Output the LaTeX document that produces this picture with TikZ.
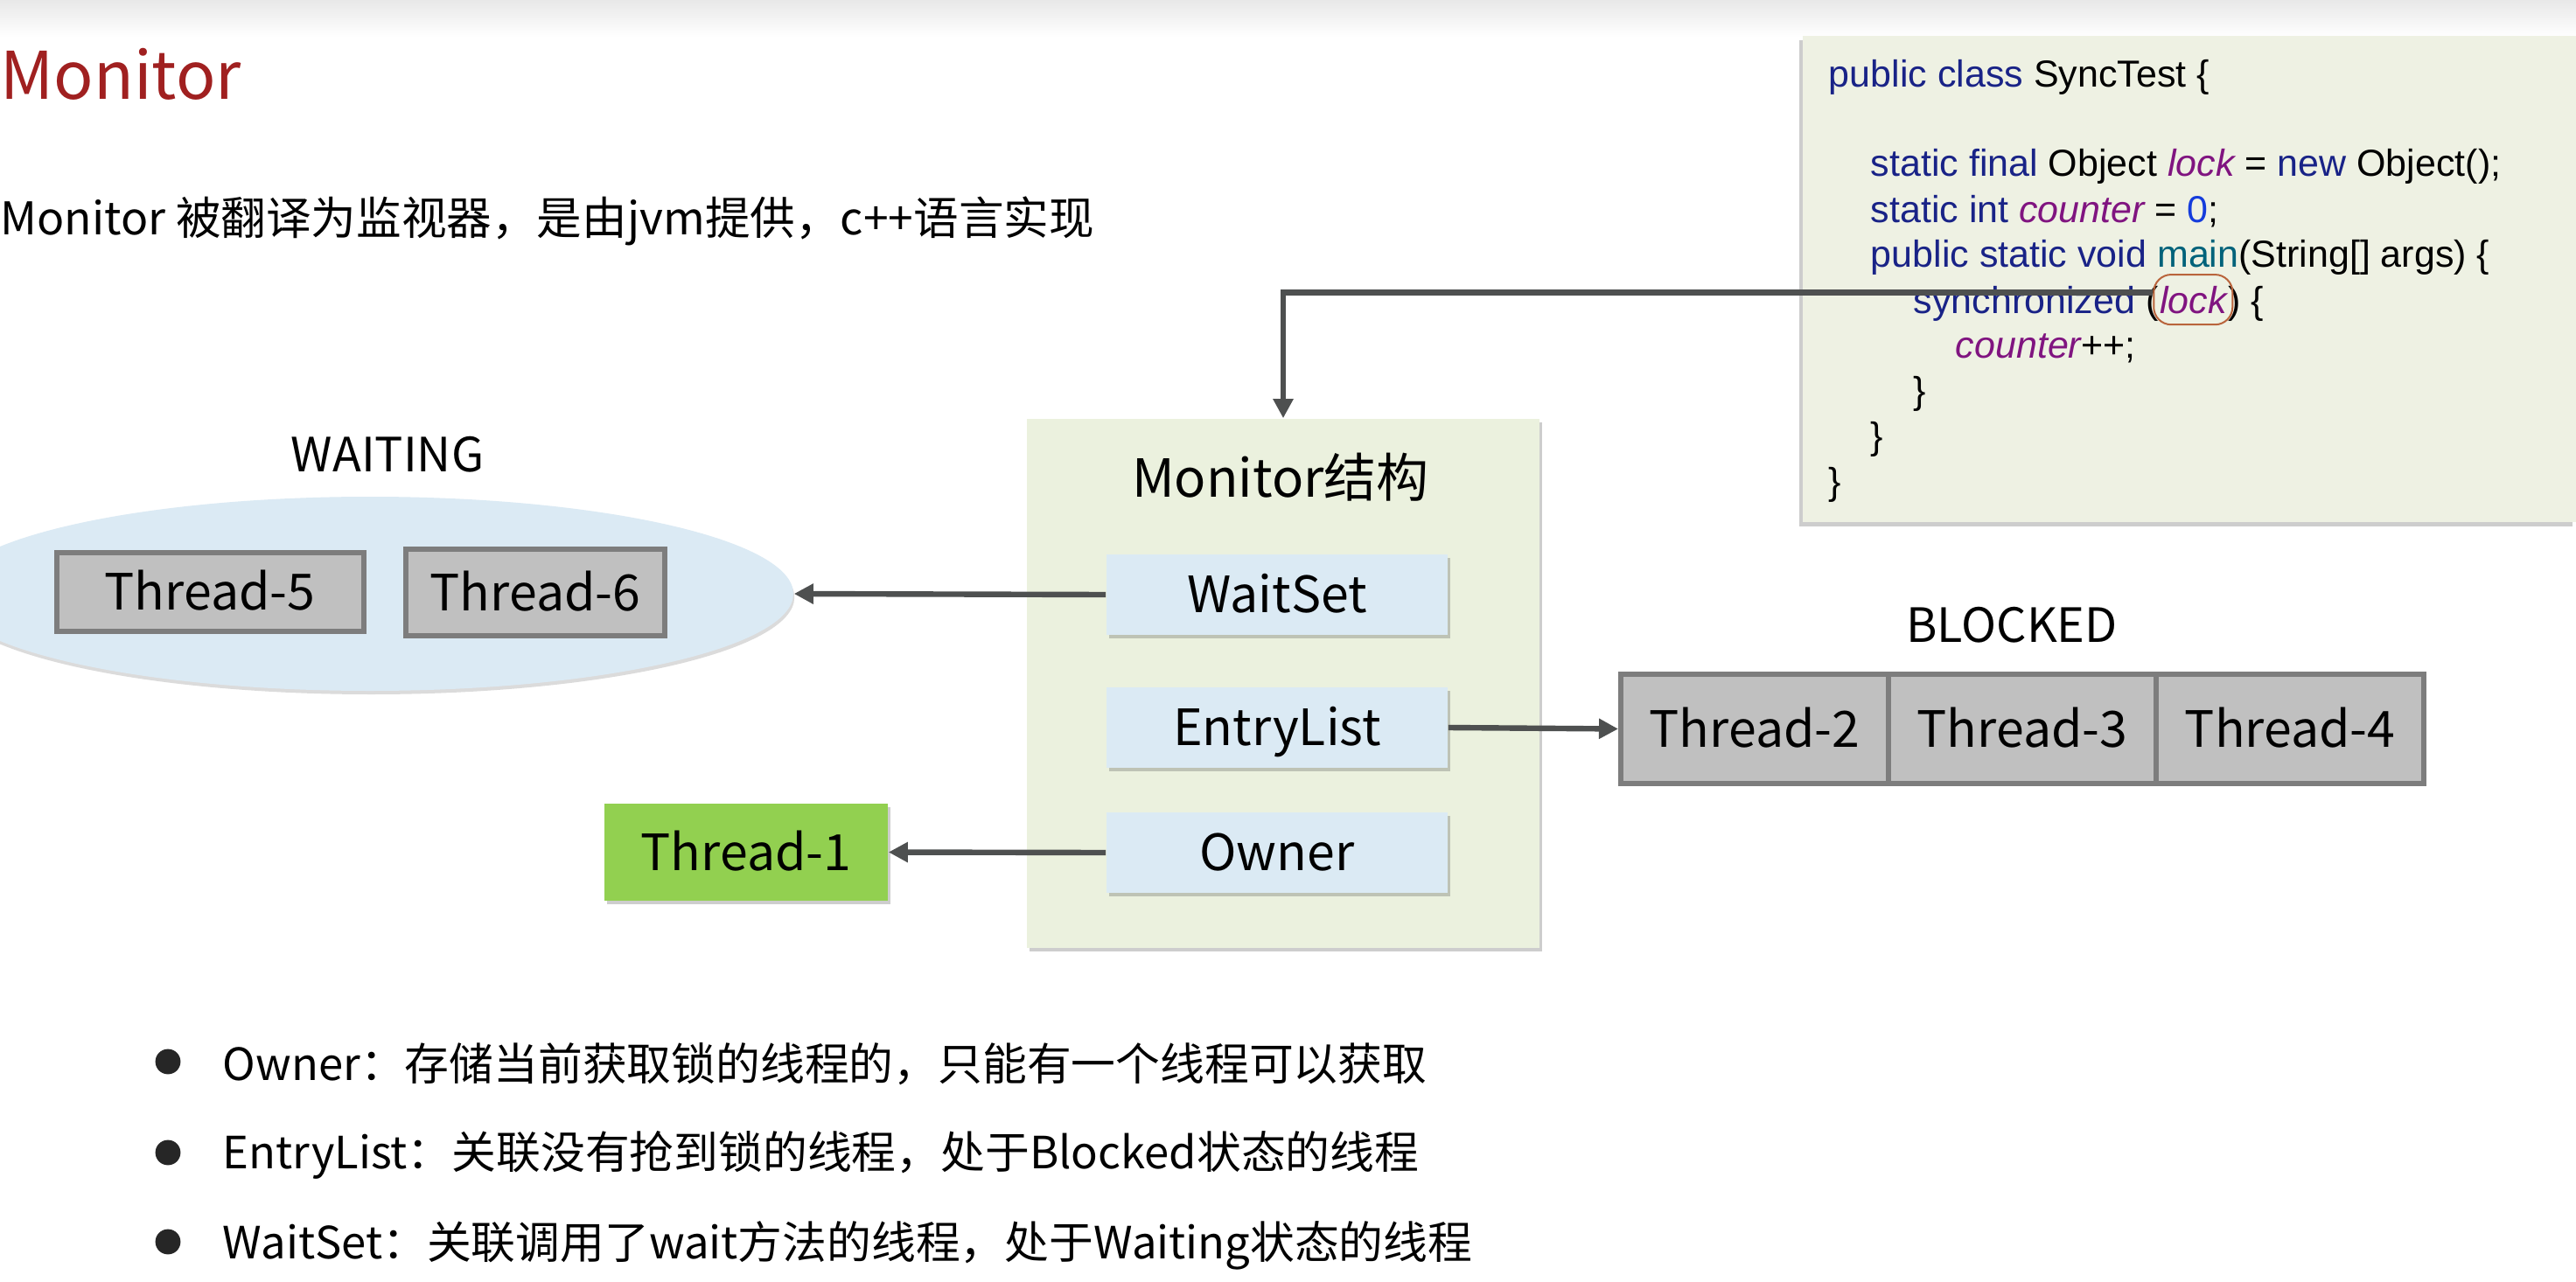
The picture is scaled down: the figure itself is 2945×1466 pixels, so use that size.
\documentclass[tikz,border=0pt]{standalone}
\usepackage{fontspec}
\setmainfont{Noto Sans CJK SC}
\newfontfamily\codefont{Liberation Sans}
\usetikzlibrary{shadows,fit,arrows.meta,shapes.geometric}
\definecolor{titlec}{RGB}{160,32,32}
\definecolor{codebg}{RGB}{238,241,227}
\definecolor{monbg}{RGB}{235,241,222}
\definecolor{lblue}{RGB}{219,234,244}
\definecolor{tgray}{RGB}{192,192,192}
\definecolor{tborder}{RGB}{125,125,125}
\definecolor{tgreen}{RGB}{146,208,80}
\definecolor{arrowc}{RGB}{78,80,80}
\definecolor{kwc}{RGB}{25,35,135}
\definecolor{fldc}{RGB}{128,20,128}
\definecolor{numc}{RGB}{20,60,220}
\definecolor{mthc}{RGB}{0,98,122}
\definecolor{lockc}{RGB}{185,100,60}
\definecolor{dotc}{RGB}{38,38,38}
\newcommand{\kw}[1]{\textcolor{kwc}{#1}}
\newcommand{\fld}[1]{\textcolor{fldc}{\itshape #1}}
\newcommand{\numv}[1]{\textcolor{numc}{#1}}
\newcommand{\mth}[1]{\textcolor{mthc}{#1}}
\begin{document}
\begin{tikzpicture}[x=0.25pt,y=-0.25pt,
  softshadow/.style={drop shadow={shadow xshift=0.8pt,shadow yshift=-1pt,opacity=0.28,fill=black!70}},
  boxtext/.style={font=\fontsize{14.3pt}{17pt}\selectfont,text height=10.4pt,text depth=0pt},
  labeltext/.style={font=\fontsize{13.5pt}{16pt}\selectfont},
  inbox/.style={rectangle,fill=lblue,minimum width=97.5pt,minimum height=23pt,softshadow,boxtext},
  threadbox/.style={rectangle,fill=tgray,draw=tborder,line width=1.5pt,boxtext},
  conn/.style={draw=arrowc,line width=1.6pt,-{Triangle[length=5.5pt,width=5.5pt]}},
  codet/.style={anchor=base west,inner sep=0pt,font=\codefont\fontsize{10.75pt}{13pt}\selectfont},
  bullettext/.style={anchor=west,inner sep=0pt,font=\fontsize{12.7pt}{15pt}\selectfont},
  bulletdot/.style={circle,fill=dotc,inner sep=0pt,minimum size=7.2pt}]
\useasboundingbox (0,0) rectangle (2945,1466);
\fill[white] (0,0) rectangle (2945,1466);
\shade[top color=black!9,bottom color=white] (0,0) rectangle (2945,42);

% title and subtitle
\node[anchor=base west,inner sep=0pt,text=titlec,font=\fontsize{18.8pt}{22pt}\selectfont] (title) at (0,114) {Monitor};
\node[anchor=west,inner sep=0pt,font=\fontsize{12.9pt}{15pt}\selectfont] (subtitle) at (0,253) {Monitor 被翻译为监视器，是由jvm提供，c++语言实现};

% code box
\node[rectangle,fill=codebg,minimum width=221pt,minimum height=139pt,
  drop shadow={shadow xshift=-1pt,shadow yshift=-1.3pt,opacity=0.28,fill=black!70}] (code) at (2503,319) {};
\node[codet] (c1) at (2090,100) {\kw{public class} SyncTest \{};
\node[codet] (c2) at (2138,202) {\kw{static final} Object \fld{lock} = \kw{new} Object();};
\node[codet] (c3) at (2138,254) {\kw{static int} \fld{counter} = \numv{0};};
\node[codet] (c4) at (2138,306) {\kw{public static void} \mth{main}(String[] args) \{};
\node[codet] (c5a) at (2187,358) {\kw{synchronized} (};
\node[codet] (lk) at (c5a.base east) {\fld{lock}};
\node[codet] (c5c) at (lk.base east) {) \{};
\node[codet] (c6) at (2235,410) {\fld{counter}++;};
\node[codet] (c7) at (2187,461) {\}};
\node[codet] (c8) at (2138,513) {\}};
\node[codet] (c9) at (2090,565) {\}};
\node[draw=lockc,line width=0.5pt,rounded corners=5pt,fit=(lk),inner xsep=1.5pt,inner ysep=3pt] (lockbox) {};

% monitor structure
\node[rectangle,fill=monbg,minimum width=146.5pt,minimum height=151.25pt,softshadow] (monitor) at (1467,781.5) {};
\node[font=\fontsize{15pt}{18pt}\selectfont] (montitle) at (1464,546) {Monitor结构};
\node[inbox] (waitset) at (1460,680) {WaitSet};
\node[inbox] (entry) at (1460,832) {EntryList};
\node[inbox] (owner) at (1460,975) {Owner};

% waiting
\node[labeltext] (waitlbl) at (443,520) {WAITING};
\node[ellipse,fill=lblue,minimum width=242pt,minimum height=55.5pt,inner sep=0pt,
  drop shadow={shadow xshift=0.3pt,shadow yshift=-1pt,opacity=0.2,fill=black!70}] (waitell) at (423,679) {};
\node[threadbox,minimum width=87.75pt,minimum height=22.5pt] (t5) at (240,676.5) {Thread-5};
\node[threadbox,minimum width=74pt,minimum height=24.75pt] (t6) at (612,677.5) {Thread-6};

% owner thread
\node[rectangle,fill=tgreen,minimum width=81pt,minimum height=27.75pt,softshadow,boxtext] (t1) at (853,974.5) {Thread-1};

% blocked
\node[labeltext] (blocklbl) at (2300,715) {BLOCKED};
\node[threadbox,minimum width=76.5pt,minimum height=31.25pt] (t2) at (2006,833.5) {Thread-2};
\node[threadbox,minimum width=76.5pt,minimum height=31.25pt] (t3) at (2312,833.5) {Thread-3};
\node[threadbox,minimum width=76.5pt,minimum height=31.25pt] (t4) at (2618,833.5) {Thread-4};

% connectors
\draw[conn] ([yshift=2pt]lockbox.west) -| (monitor.north);
\draw[conn] (waitset.west) -- (waitell.east);
\draw[conn] (owner.west) -- (t1.east);
\draw[conn] (entry.east) -- (t2.west);

% bullets
\node[bulletdot] (d1) at (192,1214) {};
\node[bulletdot] (d2) at (192,1318) {};
\node[bulletdot] (d3) at (192,1420) {};
\node[bullettext] (b1) at (254,1217) {Owner：存储当前获取锁的线程的，只能有一个线程可以获取};
\node[bullettext] (b2) at (254,1321) {EntryList：关联没有抢到锁的线程，处于Blocked状态的线程};
\node[bullettext] (b3) at (254,1424) {WaitSet：关联调用了wait方法的线程，处于Waiting状态的线程};
\end{tikzpicture}
\end{document}
